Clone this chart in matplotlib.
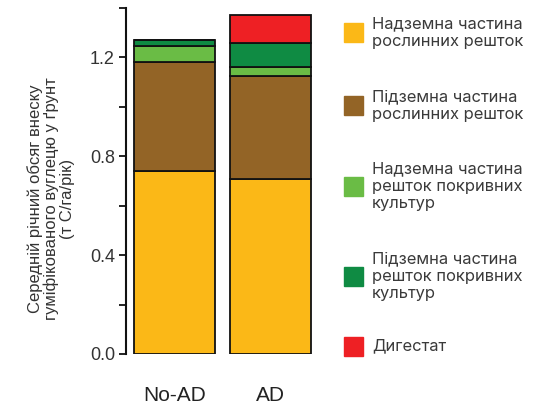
import matplotlib
matplotlib.use("Agg")
import matplotlib.pyplot as plt
from matplotlib.patches import Rectangle

# ── data ──────────────────────────────────────────────────────────────────────
groups = ["No-AD", "AD"]
above_crop = [0.740, 0.707]     # надземна частина рослинних решток
below_crop = [0.441, 0.419]     # підземна частина рослинних решток
above_cover = [0.065, 0.035]    # надземна частина покривних культур
below_cover = [0.025, 0.097]    # підземна частина покривних культур
digestate = [0.000, 0.112]      # дигестат

series = [above_crop, below_crop, above_cover, below_cover, digestate]
labels = [
    "Надземна частина\nрослинних решток",
    "Підземна частина\nрослинних решток",
    "Надземна частина\nрешток покривних\nкультур",
    "Підземна частина\nрешток покривних\nкультур",
    "Дигестат",
]
colors = ["#FBB817", "#936426", "#6ABC45", "#0F8B43", "#EE2024"]

yticks = [0.0, 0.2, 0.4, 0.6, 0.8, 1.0, 1.2, 1.4]
ytick_labels = ["0.0", "", "0.4", "", "0.8", "", "1.2", ""]

# ── figure ────────────────────────────────────────────────────────────────────
fig = plt.figure(figsize=(5.51, 4.20), dpi=100)
ax = fig.add_axes([126 / 551, 66 / 420, 193 / 551, 346 / 420])

x = range(len(groups))
bottom = [0.0] * len(groups)
for vals, col in zip(series, colors):
    ax.bar(x, vals, width=0.844, bottom=bottom, color=col,
           edgecolor="#111111", linewidth=1.3)
    bottom = [b + v for b, v in zip(bottom, vals)]

ax.set_xlim(-0.505, 1.505)
ax.set_ylim(0, 1.4)
ax.set_yticks(yticks)
ax.set_yticklabels(ytick_labels, fontsize=13, color="#333333",
                   family="Liberation Sans")
ax.set_xticks(list(x))
ax.set_xticklabels(groups, fontsize=15, color="#222222",
                   family="Liberation Sans")
ax.tick_params(axis="x", length=0, pad=23)
ax.tick_params(axis="y", length=5, width=1.3, color="#111111", pad=3)

for side in ["top", "right", "bottom"]:
    ax.spines[side].set_visible(False)
ax.spines["left"].set_linewidth(1.5)
ax.spines["left"].set_color("#111111")

# y-axis label as three centred lines
fig.text(51 / 551, 1 - 199 / 420,
         "Середній річний обсяг внеску\nгуміфікованого вуглецю у ґрунт\n(т С/га/рік)",
         rotation=90, ha="center", va="center", fontsize=12,
         color="#333333", family="Liberation Sans", linespacing=1.05)

# ── legend drawn by hand ─────────────────────────────────────────────────────
legend_y = [32.5, 105.5, 186, 276, 346]   # centre of each patch, px from top
for lab, col, yc in zip(labels, colors, legend_y):
    fig.patches.append(Rectangle((344 / 551, 1 - (yc + 9.5) / 420),
                                 19 / 551, 19 / 420, color=col,
                                 transform=fig.transFigure, figure=fig))
    fig.text(372 / 551, 1 - yc / 420, lab, ha="left", va="center",
             fontsize=11.9, color="#3a3a3a", family="Inter",
             linespacing=1.2)

fig.savefig("out.png", dpi=100)
